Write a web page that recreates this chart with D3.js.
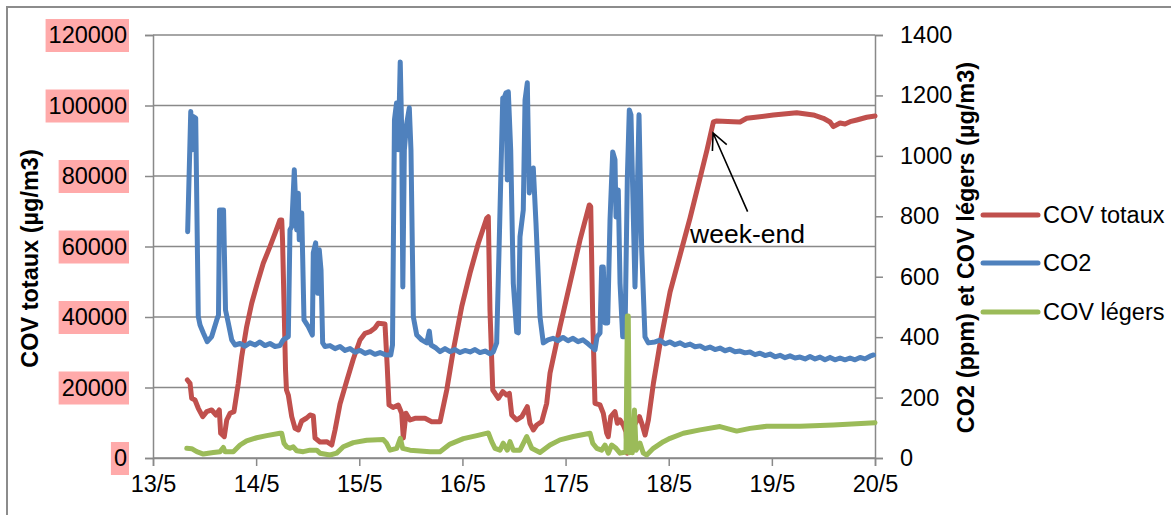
<!DOCTYPE html>
<html>
<head>
<meta charset="utf-8">
<script src="https://cdn.jsdelivr.net/npm/d3@7"></script>
<style>
  html, body { margin: 0; padding: 0; background: #fff; }
  svg { display: block; }
  text { font-family: "Liberation Sans", Arial, sans-serif; fill: #000; }
</style>
</head>
<body>
<svg id="chart" width="1171" height="515"></svg>
<script>
// ---------- DATA (time = day of May, fractional) ----------
const xTickDays = [13, 14, 15, 16, 17, 18, 19, 20];
const leftTicks = [0, 20000, 40000, 60000, 80000, 100000, 120000];
const rightTicks = [0, 200, 400, 600, 800, 1000, 1200, 1400];
const seriesNames = ["COV totaux", "CO2", "COV légers"];
const seriesColors = ["#C0504D", "#4F81BD", "#9BBB59"];
const leftTitle = "COV totaux (µg/m3)";
const rightTitle = "CO2 (ppm) et COV légers (µg/m3)";

// COV totaux (µg/m3), left axis
const covTotaux = [
  [13.333,22130],[13.359,21190],[13.375,16940],[13.407,16450],[13.439,14100],[13.482,11720],
  [13.521,13140],[13.569,13620],[13.611,12200],[13.643,13620],[13.656,7010],[13.691,6040],
  [13.715,10780],[13.747,12680],[13.785,13140],[13.827,21190],[13.860,28740],[13.908,37250],
  [13.957,43890],[14.011,49560],[14.069,55240],[14.134,59950],[14.183,63740],[14.231,67520],
  [14.248,67520],[14.256,61850],[14.285,24970],[14.294,19290],[14.312,17870],[14.345,11720],
  [14.377,8430],[14.409,7940],[14.442,10500],[14.490,11350],[14.522,12200],[14.554,11920],
  [14.571,5670],[14.619,4540],[14.684,4620],[14.733,3690],[14.765,7940],[14.813,15320],
  [14.878,21840],[14.942,28090],[15.007,33480],[15.056,35380],[15.104,35830],[15.152,36880],
  [15.184,38210],[15.249,38020],[15.271,25900],[15.288,15040],[15.327,14330],[15.378,15040],
  [15.411,12680],[15.427,5670],[15.453,12680],[15.492,10780],[15.540,11260],[15.637,11260],
  [15.702,10300],[15.783,10300],[15.848,19290],[15.912,30640],[15.993,42920],[16.073,52400],
  [16.154,60910],[16.235,68000],[16.251,68460],[16.267,41990],[16.294,19290],[16.316,18360],
  [16.348,16940],[16.391,18810],[16.429,17870],[16.455,18360],[16.478,12200],[16.526,10780],
  [16.575,11720],[16.629,14550],[16.655,9840],[16.687,7940],[16.720,9360],[16.769,10300],
  [16.817,15520],[16.849,24030],[16.946,37250],[17.043,49560],[17.140,61850],[17.230,71780],
  [17.244,71290],[17.263,40090],[17.285,15520],[17.334,15040],[17.366,12680],[17.399,7010],
  [17.414,6040],[17.438,11720],[17.479,13140],[17.502,9840],[17.528,10780],[17.560,9360],
  [17.586,7460],[17.599,1330],[17.625,7940],[17.657,8880],[17.716,11720],[17.739,9840],
  [17.771,6530],[17.803,10780],[17.852,21280],[17.917,32630],[18.013,47090],[18.110,57590],
  [18.207,68090],[18.304,79440],[18.371,87380],[18.433,95320],[18.466,95610],[18.627,95410],
  [18.691,95320],[18.756,96370],[18.820,96600],[19.014,97310],[19.241,97960],[19.402,97310],
  [19.499,96370],[19.564,95320],[19.596,93990],[19.661,95040],[19.709,94760],[19.758,95410],
  [19.823,95890],[19.920,96660],[20.000,97030]
];

// CO2 (ppm), right axis
const co2 = [
  [13.336,749],[13.366,1147],[13.381,1020],[13.391,1130],[13.414,1125],[13.439,468],[13.456,440],
  [13.488,414],[13.526,385],[13.569,402],[13.618,457],[13.635,473],[13.645,821],[13.684,821],
  [13.703,490],[13.730,447],[13.763,391],[13.795,374],[13.844,379],[13.892,370],[13.940,381],
  [13.989,374],[14.037,384],[14.086,372],[14.134,379],[14.183,369],[14.231,372],[14.263,391],
  [14.312,402],[14.328,755],[14.345,766],[14.370,954],[14.393,755],[14.409,876],[14.418,722],
  [14.442,811],[14.464,457],[14.506,435],[14.545,407],[14.554,679],[14.577,712],[14.597,545],
  [14.612,689],[14.629,622],[14.645,381],[14.668,369],[14.716,372],[14.765,362],[14.813,369],
  [14.862,356],[14.910,362],[14.959,350],[15.007,356],[15.056,346],[15.104,352],[15.152,343],
  [15.201,349],[15.249,342],[15.305,341],[15.322,374],[15.341,1119],[15.361,1175],[15.378,1020],
  [15.397,1311],[15.411,1086],[15.422,566],[15.437,1020],[15.458,1103],[15.485,1159],[15.501,1020],
  [15.524,467],[15.557,407],[15.605,391],[15.654,381],[15.679,420],[15.695,374],[15.744,364],
  [15.783,352],[15.831,362],[15.880,352],[15.928,359],[15.977,349],[16.025,356],[16.074,351],
  [16.122,359],[16.170,349],[16.219,354],[16.267,345],[16.299,351],[16.332,381],[16.355,689],
  [16.391,1192],[16.408,1195],[16.423,1209],[16.435,920],[16.445,1212],[16.468,1020],[16.493,579],
  [16.526,417],[16.542,414],[16.558,732],[16.590,821],[16.607,1185],[16.629,1242],[16.648,877],
  [16.665,937],[16.687,960],[16.713,778],[16.752,467],[16.784,381],[16.830,391],[16.878,396],
  [16.927,388],[16.975,399],[17.024,388],[17.072,396],[17.121,385],[17.169,391],[17.218,378],
  [17.256,367],[17.285,358],[17.305,401],[17.334,414],[17.350,632],[17.366,632],[17.382,447],
  [17.408,447],[17.431,788],[17.457,1013],[17.479,987],[17.489,798],[17.511,887],[17.528,579],
  [17.554,401],[17.576,401],[17.599,930],[17.618,1152],[17.634,1136],[17.673,566],[17.696,887],
  [17.712,1136],[17.738,689],[17.770,401],[17.802,381],[17.867,384],[17.916,390],[17.964,378],
  [18.013,384],[18.061,375],[18.110,381],[18.158,372],[18.207,377],[18.255,368],[18.304,371],
  [18.352,362],[18.400,367],[18.449,359],[18.497,364],[18.546,355],[18.594,360],[18.643,352],
  [18.691,354],[18.740,348],[18.788,351],[18.837,342],[18.885,347],[18.934,339],[18.982,344],
  [19.031,335],[19.079,340],[19.128,332],[19.176,338],[19.225,331],[19.273,334],[19.322,328],
  [19.370,336],[19.419,328],[19.467,334],[19.515,325],[19.564,333],[19.612,325],[19.661,331],
  [19.709,325],[19.758,331],[19.806,325],[19.855,333],[19.903,328],[19.952,337],[19.986,341]
];

// COV légers (µg/m3), right axis
const covLegers = [
  [13.327,32],[13.375,31],[13.424,21],[13.488,13],[13.585,18],[13.650,21],[13.682,35],[13.698,21],
  [13.779,21],[13.844,43],[13.908,57],[14.005,67],[14.102,74],[14.231,82],[14.248,82],[14.270,49],
  [14.296,37],[14.328,32],[14.360,37],[14.393,24],[14.457,21],[14.522,26],[14.587,26],[14.619,16],
  [14.716,10],[14.781,16],[14.845,37],[14.942,51],[15.072,59],[15.233,61],[15.264,49],[15.298,26],
  [15.363,32],[15.398,65],[15.421,32],[15.492,26],[15.686,21],[15.783,21],[15.880,46],[16.009,64],
  [16.139,74],[16.251,83],[16.284,54],[16.316,32],[16.364,26],[16.396,49],[16.435,26],[16.461,54],
  [16.493,26],[16.558,26],[16.623,71],[16.672,32],[16.752,18],[16.849,43],[16.946,60],[17.075,71],
  [17.237,82],[17.263,49],[17.302,32],[17.350,26],[17.382,43],[17.414,16],[17.447,43],[17.489,32],
  [17.528,16],[17.586,20],[17.599,470],[17.608,470],[17.618,17],[17.634,109],[17.647,17],[17.668,159],
  [17.683,26],[17.722,49],[17.754,16],[17.787,10],[17.851,32],[17.948,54],[18.013,65],[18.142,82],
  [18.304,93],[18.497,104],[18.659,89],[18.788,98],[18.950,105],[19.273,105],[19.596,109],[20.000,117]
];

// annotation: [day, COV totaux value]
const annotationTip = [18.43, 92200];
const annotationTail = [18.765, 69900];
const annotationLabel = [18.207, 61000];
const annotationText = "week-end";

// ---------- CHART ----------
const svg = d3.select("#chart");
const plot = {left: 153, right: 875, top: 35, bottom: 458};
const gridColor = "#898989";
const fontSize = 23.5;

const x = d3.scaleLinear().domain([13, 20]).range([plot.left, plot.right]);
const yL = d3.scaleLinear().domain([0, 120000]).range([plot.bottom, plot.top]);
const yR = d3.scaleLinear().domain([0, 1400]).range([plot.bottom, plot.top]);

// outer chart border (left & top visible)
svg.append("path")
  .attr("d", "M7,515 L7,7 L1171,7")
  .attr("fill", "none").attr("stroke", "#8c8c8c").attr("stroke-width", 2);

// gridlines
svg.append("g").selectAll("line").data(leftTicks).join("line")
  .attr("x1", plot.left).attr("x2", plot.right)
  .attr("y1", d => yL(d)).attr("y2", d => yL(d))
  .attr("stroke", gridColor).attr("stroke-width", 1.5);

// left axis
const gL = svg.append("g").attr("transform", `translate(${plot.left},0)`)
  .call(d3.axisLeft(yL).tickValues(leftTicks).tickSize(8).tickPadding(18).tickFormat(d3.format("d")));
// right axis
const gR = svg.append("g").attr("transform", `translate(${plot.right},0)`)
  .call(d3.axisRight(yR).tickValues(rightTicks).tickSize(8).tickPadding(17).tickFormat(d3.format("d")));
// bottom axis
const gX = svg.append("g").attr("transform", `translate(0,${plot.bottom})`)
  .call(d3.axisBottom(x).tickValues(xTickDays).tickSize(8).tickPadding(9).tickFormat(d => `${d}/5`));

[gL, gR, gX].forEach(g => {
  g.selectAll(".domain").attr("stroke", gridColor).attr("stroke-width", 1.5);
  g.selectAll(".tick line").attr("stroke", gridColor).attr("stroke-width", 1.5);
  g.selectAll("text").attr("font-size", fontSize).attr("font-family", '"Liberation Sans", Arial, sans-serif').attr("fill", "#000");
  g.attr("font-size", null).attr("font-family", null);
});

// pink highlight behind left tick labels
gL.selectAll(".tick").each(function() {
  const t = d3.select(this).select("text");
  const bb = t.node().getBBox();
  d3.select(this).insert("rect", "text")
    .attr("x", bb.x - 3).attr("width", bb.width + 5)
    .attr("y", -16.5).attr("height", 33)
    .attr("fill", "#FFAAAA");
});

// axis titles
svg.append("text")
  .attr("transform", `translate(30,${(plot.top + plot.bottom) / 2 + 12}) rotate(-90)`)
  .attr("text-anchor", "middle").attr("dy", "0.35em")
  .attr("font-size", fontSize).attr("font-weight", "bold")
  .text(leftTitle);
svg.append("text")
  .attr("transform", `translate(966,${(plot.top + plot.bottom) / 2 + 1}) rotate(-90)`)
  .attr("text-anchor", "middle").attr("dy", "0.35em")
  .attr("font-size", fontSize).attr("font-weight", "bold")
  .text(rightTitle);

// series
const line = (ys) => d3.line().x(d => x(d[0])).y(d => ys(d[1]));
const seriesData = [covTotaux, co2, covLegers];
const seriesScales = [yL, yR, yR];
seriesData.forEach((data, i) => {
  svg.append("path")
    .datum(data)
    .attr("d", line(seriesScales[i]))
    .attr("fill", "none")
    .attr("stroke", seriesColors[i])
    .attr("stroke-width", 5)
    .attr("stroke-linejoin", "round")
    .attr("stroke-linecap", "round");
});

// annotation arrow
const tip = [x(annotationTip[0]), yL(annotationTip[1])];
const tail = [x(annotationTail[0]), yL(annotationTail[1])];
const ang = Math.atan2(tail[1] - tip[1], tail[0] - tip[0]);
const headLen = 18, headAng = 0.45;
const h1 = [tip[0] + headLen * Math.cos(ang + headAng), tip[1] + headLen * Math.sin(ang + headAng)];
const h2 = [tip[0] + headLen * Math.cos(ang - headAng), tip[1] + headLen * Math.sin(ang - headAng)];
svg.append("path")
  .attr("d", `M${tail[0]},${tail[1]} L${tip[0]},${tip[1]} M${h1[0]},${h1[1]} L${tip[0]},${tip[1]} L${h2[0]},${h2[1]}`)
  .attr("fill", "none").attr("stroke", "#000").attr("stroke-width", 1.6);
svg.append("text")
  .attr("x", x(annotationLabel[0])).attr("y", yL(annotationLabel[1]))
  .attr("font-size", 26.5)
  .text(annotationText);

// legend
const legend = svg.append("g");
const legendY = [215, 263, 312];
seriesNames.forEach((name, i) => {
  legend.append("line")
    .attr("x1", 983).attr("x2", 1038)
    .attr("y1", legendY[i]).attr("y2", legendY[i])
    .attr("stroke", seriesColors[i]).attr("stroke-width", 5).attr("stroke-linecap", "round");
  legend.append("text")
    .attr("x", 1043).attr("y", legendY[i]).attr("dy", "0.35em")
    .attr("font-size", fontSize)
    .text(name);
});
</script>
</body>
</html>
